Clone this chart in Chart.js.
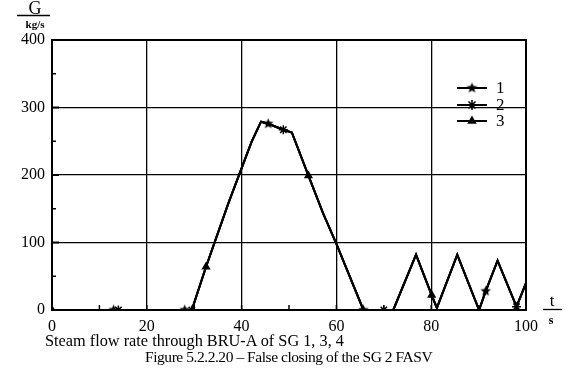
<!DOCTYPE html>
<html>
<head>
<meta charset="utf-8">
<script src="https://cdn.jsdelivr.net/npm/chart.js@4.4.0/dist/chart.umd.min.js"></script>
<style>
  body { margin: 0; background: #fff; }
  #wrap { position: relative; width: 575px; height: 381px; }
  .cap { position: absolute; font-family: "Liberation Serif", serif; color: #000; white-space: nowrap; }
</style>
</head>
<body>
<div id="wrap">
  <canvas id="chart" width="575" height="381"></canvas>
  <div class="cap" style="left:45px; top:331px; font-size:16.3px;">Steam flow rate through BRU-A of SG 1, 3, 4</div>
  <div class="cap" style="left:145px; top:348px; font-size:15.5px; letter-spacing:-0.45px;">Figure 5.2.2.20 – False closing of the SG 2 FASV</div>
</div>
<script>
// shared curve, t in s and G in kg/s
const curveT = [0, 13, 14, 28, 29.5, 32.5, 37.2, 42.1, 44.1, 45.6, 48.8, 50.6, 54.1, 57.2, 60, 65.7, 70, 72, 76.8, 80.1, 81.2, 85.5, 90.1, 91.5, 94, 98, 100];
const curveG = [0, 0, 0, 0, 0, 64, 158, 249, 279, 276, 267, 263, 199, 143, 98, 0, 0, 0, 82, 22, 3, 82, 0, 28, 73, 5, 40];
// where each series shows its marker
const marks1 = [13, 28, 45.6, 65.7, 91.5];
const marks2 = [14, 29.5, 48.8, 70, 98];
const marks3 = [0, 32.5, 54.1, 80.1];
const seriesNames = ["1", "2", "3"];
const xTicks = [0, 20, 40, 60, 80, 100];
const yTicks = [0, 100, 200, 300, 400];

function makeStar(r) {
  const c = document.createElement("canvas");
  c.width = c.height = r * 2 + 2;
  const g = c.getContext("2d");
  g.beginPath();
  for (let i = 0; i < 10; i++) {
    const a = -Math.PI / 2 + i * Math.PI / 5;
    const rr = i % 2 ? r * 0.45 : r;
    g.lineTo(r + 1 + rr * Math.cos(a), r + 1 + rr * Math.sin(a));
  }
  g.closePath();
  g.fillStyle = "#000";
  g.fill();
  return c;
}
const starImg = makeStar(5.5);

const pts = curveT.map((t, i) => ({ x: t, y: curveG[i] }));
function radii(marks, r) {
  return curveT.map(t => (marks.includes(t) ? r : 0));
}

const datasets = [
  { label: seriesNames[0], data: pts, pointStyle: starImg, pointRadius: radii(marks1, 4), legR: 4 },
  { label: seriesNames[1], data: pts, pointStyle: "star", pointRadius: radii(marks2, 4.5), legR: 5 },
  { label: seriesNames[2], data: pts, pointStyle: "triangle", pointRadius: radii(marks3, 3.8), legR: 4 },
].map(d => Object.assign(d, {
  borderColor: "#000",
  backgroundColor: "#000",
  borderWidth: 2,
  pointBorderWidth: 1.5,
  tension: 0,
}));

const decor = {
  id: "decor",
  afterDraw(chart) {
    const ctx = chart.ctx;
    const a = chart.chartArea;
    const xs = chart.scales.x, ys = chart.scales.y;
    ctx.save();
    ctx.strokeStyle = "#000";
    // frame
    ctx.lineWidth = 2;
    ctx.strokeRect(a.left, a.top, a.right - a.left, a.bottom - a.top);
    // minor ticks
    ctx.lineWidth = 1.5;
    for (let t = 10; t < 100; t += 10) {
      const px = xs.getPixelForValue(t);
      ctx.beginPath(); ctx.moveTo(px, a.bottom); ctx.lineTo(px, a.bottom - 5); ctx.stroke();
    }
    for (let g = 50; g < 400; g += 100) {
      const py = ys.getPixelForValue(g);
      ctx.beginPath(); ctx.moveTo(a.left, py); ctx.lineTo(a.left + 4, py); ctx.stroke();
    }
    ctx.lineWidth = 2;
    for (let g = 100; g <= 400; g += 100) {
      const py = ys.getPixelForValue(g);
      ctx.beginPath(); ctx.moveTo(a.left, py); ctx.lineTo(a.left + 7, py); ctx.stroke();
    }
    // axis titles
    ctx.fillStyle = "#000";
    ctx.textAlign = "center";
    ctx.textBaseline = "alphabetic";
    ctx.font = "18px 'Liberation Serif', serif";
    ctx.fillText("G", 35, 13.5);
    ctx.lineWidth = 1.3;
    ctx.beginPath(); ctx.moveTo(17, 15.5); ctx.lineTo(50, 15.5); ctx.stroke();
    ctx.font = "bold 11px 'Liberation Serif', serif";
    ctx.fillText("kg/s", 35, 27.5);
    ctx.font = "17px 'Liberation Serif', serif";
    ctx.fillText("t", 552, 306);
    ctx.beginPath(); ctx.moveTo(543, 309.5); ctx.lineTo(562, 309.5); ctx.stroke();
    ctx.font = "bold 12px 'Liberation Serif', serif";
    ctx.fillText("s", 551, 324);
    // legend
    const ly = [88, 105, 121];
    chart.data.datasets.forEach((d, i) => {
      ctx.lineWidth = 2;
      ctx.beginPath(); ctx.moveTo(457, ly[i]); ctx.lineTo(487, ly[i]); ctx.stroke();
      ctx.fillStyle = "#000";
      ctx.lineWidth = 1.5;
      Chart.helpers.drawPoint(ctx, { pointStyle: d.pointStyle, radius: d.legR, rotation: 0, borderWidth: 1.5 }, 472, ly[i]);
      ctx.font = "17px 'Liberation Serif', serif";
      ctx.textAlign = "left";
      ctx.textBaseline = "middle";
      ctx.fillText(d.label, 496, ly[i] + 1);
    });
    ctx.restore();
  }
};

new Chart(document.getElementById("chart"), {
  type: "line",
  data: { datasets },
  options: {
    responsive: false,
    animation: false,
    layout: { padding: { left: 0, top: 40, right: 49, bottom: 0 } },
    plugins: { legend: { display: false }, tooltip: { enabled: false } },
    scales: {
      x: {
        type: "linear", min: 0, max: 100,
        afterBuildTicks: s => { s.ticks = xTicks.map(v => ({ value: v })); },
        afterFit: s => { s.height = 71; },
        grid: { color: "#000", lineWidth: 1.3, drawTicks: false },
        border: { display: false },
        ticks: { color: "#000", padding: 7, maxRotation: 0, font: { family: "'Liberation Serif', serif", size: 16 } },
      },
      y: {
        min: 0, max: 400,
        afterBuildTicks: s => { s.ticks = yTicks.map(v => ({ value: v })); },
        afterFit: s => { s.width = 52; },
        grid: { color: "#000", lineWidth: 1.3, drawTicks: false },
        border: { display: false },
        ticks: { color: "#000", padding: 7, font: { family: "'Liberation Serif', serif", size: 16 } },
      },
    },
  },
  plugins: [decor],
});
</script>
</body>
</html>
